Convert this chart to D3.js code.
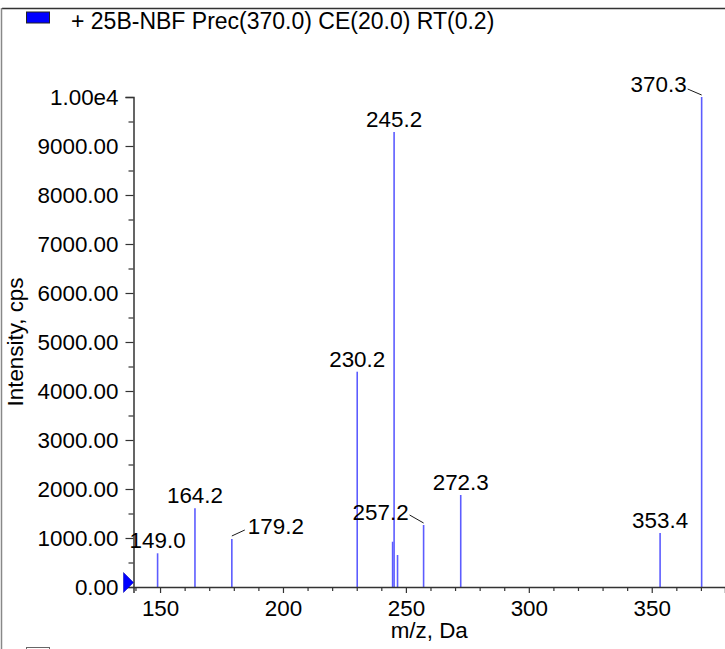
<!DOCTYPE html>
<html>
<head>
<meta charset="utf-8">
<script src="https://cdn.jsdelivr.net/npm/d3@7"></script>
<style>
  html, body { margin: 0; padding: 0; background: #fff; }
  svg { display: block; }
  text { font-family: "Liberation Sans", Arial, "DejaVu Sans", sans-serif; fill: #000; }
</style>
</head>
<body>
<svg id="chart" width="725" height="649"></svg>
<script>
// ---- data ----
const title = "+ 25B-NBF Prec(370.0) CE(20.0) RT(0.2)";
const mzValues = [149.0, 164.2, 179.2, 230.2, 244.6, 245.2, 246.6, 257.2, 272.3, 353.4, 370.3];
const intensities = [688, 1606, 980, 4394, 924, 9286, 653, 1265, 1878, 1102, 10000];
const peakLabels = ["149.0", "164.2", "179.2", "230.2", "", "245.2", "", "257.2", "272.3", "353.4", "370.3"];
const xDomain = [139.2, 379.8];
const yDomain = [0, 10000];
const xMajorTicks = [150, 200, 250, 300, 350];
const xMinorTicks = [140, 160, 170, 180, 190, 210, 220, 230, 240, 260, 270, 280, 290, 310, 320, 330, 340, 360, 370];
const yMajorTicks = [0, 1000, 2000, 3000, 4000, 5000, 6000, 7000, 8000, 9000, 10000];
const yTickLabels = ["0.00", "1000.00", "2000.00", "3000.00", "4000.00", "5000.00", "6000.00", "7000.00", "8000.00", "9000.00", "1.00e4"];
const yMinorTicks = [500, 1500, 2500, 3500, 4500, 5500, 6500, 7500, 8500, 9500];
const xAxisTitle = "m/z, Da";
const yAxisTitle = "Intensity, cps";

// ---- layout (label placement for crowded peaks: pixel offsets, not data) ----
const leaderLayout = {
  "179.2": { anchor: "start", tx: 16, ty: -5, l: [0, -3, 13, -9] },
  "257.2": { anchor: "end", tx: -15, ty: -5, l: [-14, -10, 0, -2] },
  "370.3": { anchor: "end", tx: -15, ty: -5, l: [-14, -8, 0, -2] }
};

const FS = 22.4;
const FS_TITLE = 23;
const svg = d3.select("#chart");
const pLeft = 133.5, pRight = 725, pTop = 97, pBottom = 587;

const x = d3.scaleLinear().domain(xDomain).range([pLeft, pRight]);
const y = d3.scaleLinear().domain(yDomain).range([pBottom, pTop]);

// frame
svg.append("line").attr("x1", 2).attr("x2", 725).attr("y1", 8.5).attr("y2", 8.5)
  .attr("stroke", "#333").attr("stroke-width", 1.5);
svg.append("line").attr("x1", 1.5).attr("x2", 1.5).attr("y1", 8).attr("y2", 649)
  .attr("stroke", "#888").attr("stroke-width", 1.5);

// legend
svg.append("rect").attr("x", 26.5).attr("y", 12).attr("width", 23).attr("height", 11)
  .attr("fill", "#0000ff").attr("stroke", "#222").attr("stroke-width", 1);
svg.append("text").attr("x", 71).attr("y", 28.5).attr("font-size", FS_TITLE).text(title);
svg.append("rect").attr("x", 26.5).attr("y", 647.5).attr("width", 23).attr("height", 11)
  .attr("fill", "#fff").attr("stroke", "#666").attr("stroke-width", 1);

// peaks
const peaks = mzValues.map((m, i) => ({ mz: m, v: intensities[i], label: peakLabels[i] }));
svg.append("g").selectAll("line").data(peaks).join("line")
  .attr("x1", d => x(d.mz)).attr("x2", d => x(d.mz))
  .attr("y1", y(0)).attr("y2", d => y(d.v))
  .attr("stroke", "#5c5cff").attr("stroke-width", 1.6);

// axes
const axisColor = "#333";
const xAxisMajor = d3.axisBottom(x).tickValues(xMajorTicks).tickSize(6).tickPadding(7).tickFormat(d3.format("d"));
const gx = svg.append("g").attr("transform", `translate(0,${pBottom})`).call(xAxisMajor);
gx.attr("font-family", null).attr("font-size", FS);
svg.append("g").attr("transform", `translate(0,${pBottom})`)
  .call(d3.axisBottom(x).tickValues(xMinorTicks).tickSize(4).tickFormat(""))
  .select(".domain").remove();

const yAxisMajor = d3.axisLeft(y).tickValues(yMajorTicks).tickSize(8).tickPadding(7)
  .tickFormat((d, i) => yTickLabels[i]);
const gy = svg.append("g").attr("transform", `translate(${pLeft},0)`).call(yAxisMajor);
gy.attr("font-family", null).attr("font-size", FS);
svg.append("g").attr("transform", `translate(${pLeft},0)`)
  .call(d3.axisLeft(y).tickValues(yMinorTicks).tickSize(5).tickFormat(""))
  .select(".domain").remove();

svg.selectAll(".domain").attr("stroke", axisColor).attr("stroke-width", 1.5);
svg.selectAll(".tick line").attr("stroke", axisColor).attr("stroke-width", 1.2);
svg.selectAll(".tick text").attr("fill", "#000");

// origin marker
const y0 = y(0);
svg.append("path")
  .attr("d", `M${pLeft - 10},${y0 - 14.5} L${pLeft},${y0 - 4.5} L${pLeft - 10},${y0 + 5.5} Z`)
  .attr("fill", "#0000ff").attr("stroke", "#0000aa").attr("stroke-width", 0.5);

// axis titles
svg.append("text").attr("x", (pLeft + pRight) / 2).attr("y", 638)
  .attr("text-anchor", "middle").attr("font-size", FS).text(xAxisTitle);
svg.append("text")
  .attr("transform", `translate(22.5,${(pTop + pBottom) / 2}) rotate(-90)`)
  .attr("text-anchor", "middle").attr("font-size", FS).text(yAxisTitle);

// peak labels
const lg = svg.append("g");
peaks.filter(d => d.label).forEach(d => {
  const px = x(d.mz), py = y(d.v);
  const lay = leaderLayout[d.label];
  if (lay) {
    lg.append("text").attr("x", px + lay.tx).attr("y", py + lay.ty)
      .attr("text-anchor", lay.anchor).attr("font-size", FS).text(d.label);
    lg.append("line")
      .attr("x1", px + lay.l[0]).attr("y1", py + lay.l[1])
      .attr("x2", px + lay.l[2]).attr("y2", py + lay.l[3])
      .attr("stroke", "#000").attr("stroke-width", 0.9);
  } else {
    lg.append("text").attr("x", px).attr("y", py - 5)
      .attr("text-anchor", "middle").attr("font-size", FS).text(d.label);
  }
});
</script>
</body>
</html>
